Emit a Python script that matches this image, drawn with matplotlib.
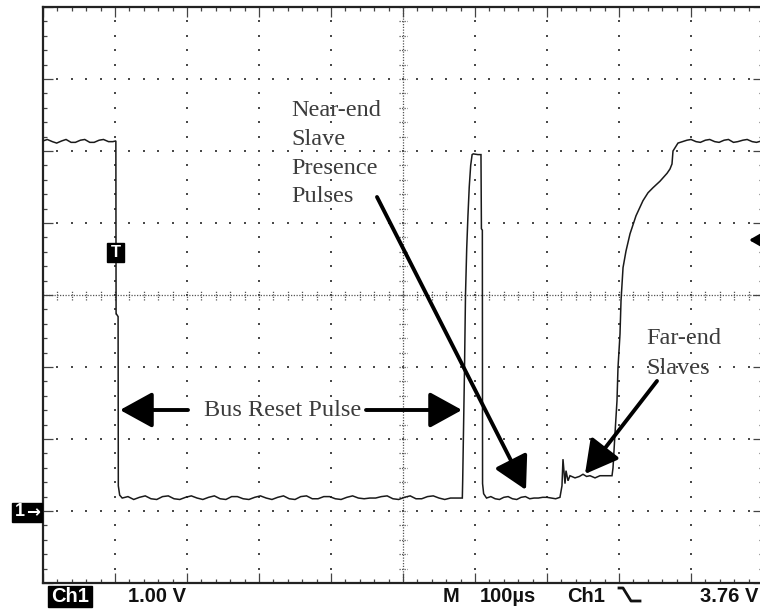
import matplotlib
matplotlib.use("Agg")
import matplotlib.pyplot as plt
from matplotlib.lines import Line2D
from matplotlib.patches import Rectangle

# ---------------- data (time in microseconds, voltage in volts) ----------------
t_high1 = [0, 6, 13, 19, 26, 32, 39, 45, 52, 58, 65, 71, 78, 84, 91, 97, 101.2]
v_high1 = [5.14, 5.16, 5.13, 5.11, 5.14, 5.16, 5.12, 5.12, 5.15, 5.16, 5.12,
           5.12, 5.15, 5.16, 5.13, 5.13, 5.14]

t_fall = [101.5, 101.7, 104.3, 104.6, 106.5, 110]
v_fall = [2.74, 2.74, 2.70, 0.35, 0.22, 0.18]

t_low1 = [118, 126, 134, 142, 150, 158, 166, 174, 182, 190, 198, 206, 214, 222,
          230, 238, 246, 254, 262, 270, 278, 286, 294, 302, 310, 318, 326, 334,
          342, 350, 358, 366, 374, 382, 390, 398, 406, 414, 422, 430, 438, 446,
          454, 462, 470, 478, 486, 494, 502, 510, 518, 526, 534, 542, 550, 558,
          566, 574, 582.4]
v_low1 = [0.20, 0.16, 0.19, 0.21, 0.17, 0.16, 0.20, 0.21, 0.17, 0.16, 0.19,
          0.21, 0.18, 0.16, 0.19, 0.21, 0.17, 0.16, 0.20, 0.20, 0.17, 0.16,
          0.19, 0.21, 0.18, 0.16, 0.19, 0.21, 0.17, 0.16, 0.20, 0.21, 0.17,
          0.17, 0.20, 0.20, 0.17, 0.16, 0.19, 0.21, 0.18, 0.17, 0.18, 0.18,
          0.20, 0.21, 0.17, 0.16, 0.19, 0.21, 0.17, 0.17, 0.20, 0.21, 0.18,
          0.16, 0.18, 0.18, 0.18]

t_pulse = [582.9, 584.2, 585.4, 586.8, 588.5, 590.2, 592.0, 594.0, 596.0,
           597.6, 604, 608.3, 608.9, 610.2, 610.5, 612, 616]
v_pulse = [0.42, 1.20, 1.95, 3.00, 3.65, 4.10, 4.50, 4.80, 4.95,
           4.96, 4.95, 4.95, 3.92, 3.90, 0.38, 0.24, 0.18]

t_low2 = [622, 628, 634, 640, 646, 652, 658, 664, 670, 676, 682, 688, 694, 700,
          706, 712, 718, 720.8]
v_low2 = [0.20, 0.17, 0.16, 0.19, 0.20, 0.17, 0.16, 0.19, 0.20, 0.17, 0.18,
          0.18, 0.19, 0.19, 0.18, 0.17, 0.19, 0.35]

t_far = [722.2, 725, 726.4, 729.2, 731.9, 738.9, 745, 750, 755, 759.7, 766.7,
         773.6, 780.6, 787.5, 790.3]
v_far = [0.72, 0.38, 0.56, 0.42, 0.49, 0.46, 0.48, 0.51, 0.48, 0.49, 0.46,
         0.49, 0.49, 0.49, 0.49]

t_rise = [791.7, 794.4, 797.2, 798.6, 801.4, 802.8, 805.6, 809.7, 815.3, 823.6,
          833.3, 840.3, 847.2, 856.9, 866.7, 870.8, 873.6, 875.0, 881.9, 894.4]
v_rise = [0.60, 1.07, 1.53, 1.99, 2.46, 2.92, 3.38, 3.61, 3.85, 4.10, 4.31,
          4.42, 4.49, 4.58, 4.69, 4.75, 4.82, 5.00, 5.11, 5.15]

t_high2 = [900, 907, 913, 920, 926, 933, 939, 946, 952, 959, 965, 972, 978, 985,
           991, 998, 1000]
v_high2 = [5.16, 5.13, 5.12, 5.15, 5.16, 5.13, 5.12, 5.15, 5.16, 5.12, 5.13,
           5.15, 5.16, 5.13, 5.12, 5.14, 5.14]

time_us = t_high1 + t_fall + t_low1 + t_pulse + t_low2 + t_far + t_rise + t_high2
volts = v_high1 + v_fall + v_low1 + v_pulse + v_low2 + v_far + v_rise + v_high2

x_divs = [0, 100, 200, 300, 400, 500, 600, 700, 800, 900, 1000]
y_divs = [-1, 0, 1, 2, 3, 4, 5, 6, 7]

# ---------------- figure ----------------
W, H = 760, 609
fig = plt.figure(figsize=(W / 100, H / 100), dpi=100)
fig.patch.set_facecolor("white")
ax = fig.add_axes([43 / W, 26 / H, 720 / W, 576 / H])
ax.set_xlim(0, 1000)
ax.set_ylim(-1, 7)

for s in ax.spines.values():
    s.set_linewidth(1.6)
    s.set_color("#222222")

ax.set_xticks(x_divs)
ax.set_yticks(y_divs)
ax.set_xticks([v for v in range(0, 1001, 20)], minor=True)
ax.set_yticks([-1 + 0.2 * k for k in range(41)], minor=True)
ax.tick_params(which="both", direction="in", top=True, bottom=True, left=True,
               right=True, labelbottom=False, labelleft=False, color="#444444")
ax.tick_params(which="major", length=7, width=0.9)
ax.tick_params(which="minor", length=3, width=0.9)

# dotted graticule
gx, gy = [], []
minor_x = [v for v in range(0, 1001, 20)]
minor_y = [-1 + 0.2 * k for k in range(41)]
for xv in x_divs[1:-1]:
    if xv == 500:
        continue
    for yv in minor_y:
        gx.append(xv)
        gy.append(yv)
for yv in y_divs[1:-1]:
    if yv == 3:
        continue
    for xv in minor_x:
        gx.append(xv)
        gy.append(yv)
ax.scatter(gx, gy, s=1.5, marker="s", color="#4a4a4a", linewidths=0, zorder=1)

# centre cross (dense dots + small ticks)
ax.axvline(500, color="#555555", lw=0.9, ls=(0, (1, 1.2)), zorder=1)
ax.axhline(3, color="#555555", lw=0.9, ls=(0, (1, 1.2)), zorder=1)
ax.vlines(minor_x, 3 - 0.07, 3 + 0.07, color="#555555", lw=0.9,
          ls=(0, (1, 1)), zorder=1)
ax.hlines(minor_y, 500 - 6, 500 + 6, color="#555555", lw=0.9,
          ls=(0, (1, 1)), zorder=1)

# trace
ax.plot(time_us, volts, color="#1a1a1a", lw=1.1, zorder=3,
        solid_joinstyle="miter")


# ---------------- decorations (figure pixel coordinates, y from top) ----------------
def fp(x, y):
    return (x, H - y)


def arrow(x0, y0, x1, y1, hl=1.0, hw=0.55, lw=2.8, ms=20):
    ax.annotate("", xy=fp(x1, y1), xytext=fp(x0, y0),
                xycoords="figure pixels", textcoords="figure pixels",
                annotation_clip=False,
                arrowprops=dict(arrowstyle=f"-|>,head_length={hl},head_width={hw}",
                                lw=lw, color="black", shrinkA=0, shrinkB=0,
                                mutation_scale=ms))


serif = dict(family="Liberation Serif", fontsize=17.5, color="#3c3c3c")
near_lines = ["Near-end", "Slave", "Presence", "Pulses"]
near_y = [110, 139, 168, 197]
for txt, yy in zip(near_lines, near_y):
    fig.text(291 / W, 1 - yy / H, txt, ha="left", va="center", **serif)
fig.text(283 / W, 1 - 411 / H, "Bus Reset Pulse", ha="center", va="center", **serif)
fig.text(646 / W, 1 - 339 / H, "Far-end", ha="left", va="center", **serif)
fig.text(646 / W, 1 - 369 / H, "Slaves", ha="left", va="center", **serif)

arrow(188, 410, 120, 410)
arrow(366, 410, 462, 410)
arrow(377, 197, 526, 490)
arrow(657, 381, 585, 474)
arrow(790, 240, 749, 240, hl=0.7, hw=0.4, lw=2.2)

# trigger 'T' marker
fig.patches.append(Rectangle((107 / W, 1 - 262 / H), 17 / W, 19 / H,
                             transform=fig.transFigure, facecolor="black",
                             edgecolor="black", zorder=5))
fig.text(115.5 / W, 1 - 252.5 / H, "T", color="white", fontsize=12,
         fontweight="bold", ha="center", va="center", family="Liberation Sans",
         zorder=6)

# ground marker '1→'
fig.patches.append(Rectangle((12 / W, 1 - 522 / H), 30 / W, 19 / H,
                             transform=fig.transFigure, facecolor="black",
                             edgecolor="black", zorder=5))
fig.text(20 / W, 1 - 512 / H, "1", color="white", fontsize=13,
         fontweight="bold", ha="center", va="center",
         family="Liberation Sans", zorder=6)
fig.text(33 / W, 1 - 512 / H, "\u2192", color="white", fontsize=12,
         fontweight="bold", ha="center", va="center",
         family="DejaVu Sans", zorder=6)

# bottom status line
sans = dict(family=["Liberation Sans", "DejaVu Sans"], fontsize=14.5,
            fontweight="bold", color="#111111", va="center")
fig.patches.append(Rectangle((48 / W, 1 - 607 / H), 44 / W, 21 / H,
                             transform=fig.transFigure, facecolor="black",
                             edgecolor="black", zorder=5))
fig.text(70 / W, 1 - 596 / H, "Ch1", ha="center", **{**sans, "color": "white"},
         zorder=6)
fig.text(128 / W, 1 - 596 / H, "1.00 V", ha="left", **sans)
fig.text(443 / W, 1 - 596 / H, "M", ha="left", **sans)
fig.text(480 / W, 1 - 596 / H, "100\u00b5s", ha="left", **sans)
fig.text(567 / W, 1 - 596 / H, "Ch1", ha="left", **sans)
fig.lines.append(Line2D([619 / W, 623 / W, 631 / W, 640 / W],
                        [1 - 588 / H, 1 - 588 / H, 1 - 601 / H, 1 - 601 / H],
                        transform=fig.transFigure, color="#111111", lw=2))
fig.text(758 / W, 1 - 596 / H, "3.76 V", ha="right", **sans)

fig.savefig("out.png", dpi=100)
